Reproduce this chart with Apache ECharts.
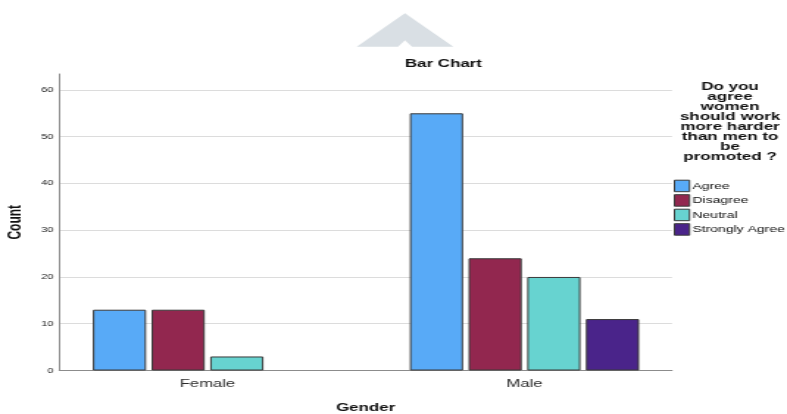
<!DOCTYPE html>
<html>
<head>
<meta charset="utf-8">
<title>Bar Chart</title>
<script src="https://cdn.jsdelivr.net/npm/echarts@6/dist/echarts.min.js"></script>
<style>
  html, body { margin: 0; padding: 0; background: #ffffff; overflow: hidden; }
  /* The chart is laid out narrow and widened horizontally to fill 787px */
  #chart {
    width: 535px;
    height: 414px;
    transform: scaleX(1.4710);
    transform-origin: 0 0;
  }
</style>
</head>
<body>
<div id="chart"></div>
<script>
// Categories on the x axis
var genders = ['Female', 'Male'];

// Answer groups (one series each)
var answers = ['Agree', 'Disagree', 'Neutral', 'Strongly Agree'];

// Counts per gender for each answer; '-' = no respondents
var agreeCounts = [13, 55];
var disagreeCounts = [13, 24];
var neutralCounts = [3, 20];
var stronglyAgreeCounts = ['-', 11];

// Y-axis tick labels step / range
var countTickStep = 10;
var countAxisMax = 63.4;

var seriesValues = [agreeCounts, disagreeCounts, neutralCounts, stronglyAgreeCounts];
var seriesColors = ['#58aaf7', '#92274f', '#67d3d0', '#4a248a'];

var FONT = '"Liberation Sans", Arial, sans-serif';
var chart = echarts.init(document.getElementById('chart'), null, { renderer: 'canvas' });

var series = answers.map(function (name, i) {
  return {
    name: name,
    type: 'bar',
    xAxisIndex: 0,
    yAxisIndex: 0,
    barWidth: 36.2,
    barGap: '10.2%',
    data: seriesValues[i],
    itemStyle: { color: seriesColors[i], borderColor: '#3a3a3a', borderWidth: 1 },
    emphasis: { disabled: true }
  };
});

chart.setOption({
  animation: false,
  backgroundColor: '#ffffff',
  textStyle: { fontFamily: FONT },
  title: [
    {
      text: 'Bar Chart',
      left: 301.4,
      top: 57.5,
      padding: 0,
      textAlign: 'center',
      textStyle: { fontFamily: FONT, fontSize: 11.5, fontWeight: 'bold', color: '#111' }
    },
    {
      text: 'Do you\nagree\nwomen\nshould work\nmore harder\nthan men to\nbe\npromoted ?',
      left: 496.3,
      top: 81.5,
      padding: 0,
      textAlign: 'center',
      textStyle: { fontFamily: FONT, fontSize: 11.6, fontWeight: 'bold', color: '#111', lineHeight: 10 }
    }
  ],
  legend: {
    orient: 'vertical',
    left: 458,
    top: 179.7,
    padding: 0,
    itemWidth: 10.2,
    itemHeight: 11.5,
    itemGap: 2,
    icon: 'rect',
    selectedMode: false,
    data: answers,
    itemStyle: { borderColor: '#3a3a3a', borderWidth: 1 },
    textStyle: { fontFamily: FONT, fontSize: 9.5, color: '#111', padding: [0, 0, 0, -3] }
  },
  graphic: [
    {
      type: 'polygon',
      silent: true,
      shape: {
        points: [[242.5, 46.7], [275.3, 13.3], [308.2, 46.7], [280.1, 46.7], [275.3, 40.2], [270.6, 46.7]]
      },
      style: { fill: '#d9dfe4' }
    }
  ],
  grid: [
    // bar area
    { left: 33.3, width: 431.0, top: 74, height: 296.5, containLabel: false, outerBoundsMode: 'none' },
    // value axis, gridlines and baseline
    { left: 40.3, width: 416.5, top: 74, height: 296.5, containLabel: false, outerBoundsMode: 'none' }
  ],
  xAxis: [
    {
      type: 'category',
      gridIndex: 0,
      data: genders,
      axisLine: { show: false },
      axisTick: { show: false },
      axisLabel: { fontFamily: FONT, fontSize: 11.3, color: '#2b2b2b', margin: 7.5 }
    },
    {
      type: 'category',
      gridIndex: 1,
      data: genders,
      axisLine: { show: true, lineStyle: { color: '#8c8c8c', width: 1 } },
      axisTick: { show: false },
      axisLabel: { show: false },
      name: 'Gender',
      nameLocation: 'middle',
      nameGap: 31,
      nameTextStyle: { fontFamily: FONT, fontSize: 11.5, fontWeight: 'bold', color: '#111' }
    }
  ],
  yAxis: [
    {
      type: 'value',
      gridIndex: 0,
      min: 0,
      max: countAxisMax,
      interval: countTickStep,
      show: false
    },
    {
      type: 'value',
      gridIndex: 1,
      min: 0,
      max: countAxisMax,
      interval: countTickStep,
      axisLine: { show: true, lineStyle: { color: '#8c8c8c', width: 1 } },
      axisTick: { show: false },
      axisLabel: { fontFamily: FONT, fontSize: 7.5, color: '#222', margin: 4, showMaxLabel: false },
      splitLine: { show: true, showMaxLine: false, showMinLine: false, lineStyle: { color: '#dcdcdc', width: 1 } },
      name: 'Count',
      nameLocation: 'middle',
      nameGap: 20.5,
      nameRotate: 90,
      nameTextStyle: { fontFamily: FONT, fontSize: 12, fontWeight: 'bold', color: '#111' }
    }
  ],
  series: series
});
</script>
</body>
</html>
